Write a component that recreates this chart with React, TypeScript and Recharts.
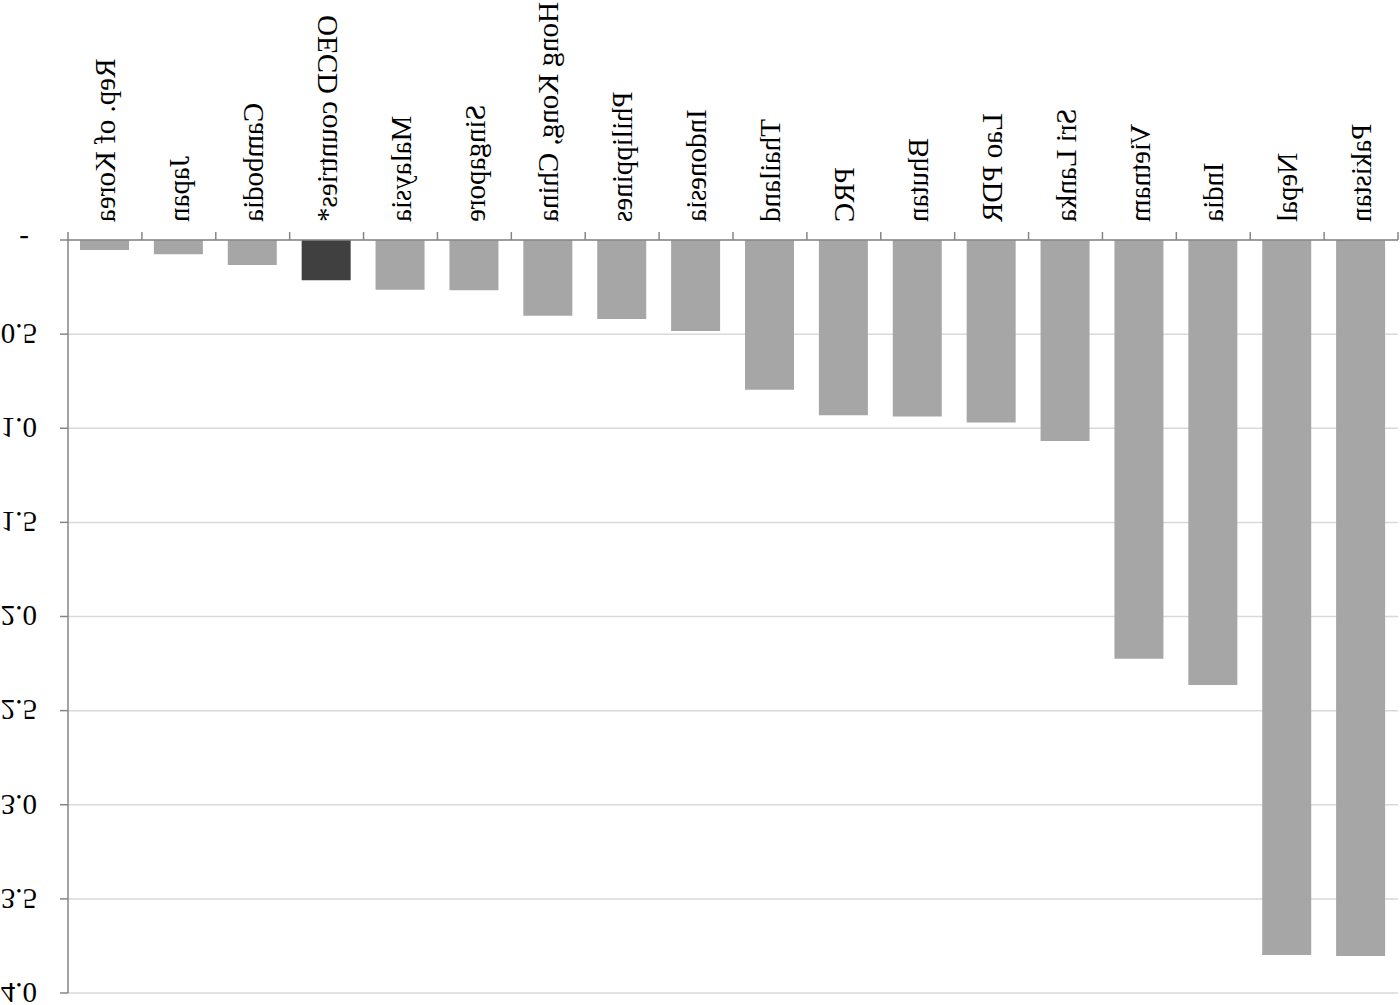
import React from 'react';
import { BarChart, Bar, XAxis, YAxis, CartesianGrid, Cell } from 'recharts';

const categories = [
  'Rep. of Korea', 'Japan', 'Cambodia', 'OECD countries*', 'Malaysia', 'Singapore',
  'Hong Kong, China', 'Philippines', 'Indonesia', 'Thailand', 'PRC', 'Bhutan',
  'Lao PDR', 'Sri Lanka', 'Vietnam', 'India', 'Nepal', 'Pakistan',
];
const values = [
  0.053, 0.076, 0.133, 0.214, 0.264, 0.267, 0.402, 0.42, 0.483, 0.795, 0.931, 0.937,
  0.97, 1.068, 2.224, 2.364, 3.798, 3.803,
];
const highlighted = ['OECD countries*'];
const yTicks = [0, 0.5, 1, 1.5, 2, 2.5, 3, 3.5, 4];
const yTickLabels = ['-', '0.5', '1.0', '1.5', '2.0', '2.5', '3.0', '3.5', '4.0'];

const data = categories.map((name, i) => ({ name, value: values[i] }));

const FONT = '"Liberation Serif", "Times New Roman", serif';
const AXIS = '#868686';

const XTick = (props: any) => {
  const { x, y, payload } = props;
  const off = payload && typeof payload.offset === 'number' && payload.offset > 0 ? payload.offset : 36.95;
  const isLast = payload.index === categories.length - 1;
  const ly = y + 18;
  return (
    <g>
      <line x1={x - off} y1={y} x2={x - off} y2={y + 8} stroke={AXIS} strokeWidth={1.5} />
      {isLast && <line x1={x + off} y1={y} x2={x + off} y2={y + 8} stroke={AXIS} strokeWidth={1.5} />}
      <text
        x={x}
        y={ly}
        transform={`rotate(-90 ${x} ${ly})`}
        textAnchor="end"
        dy="0.35em"
        fontFamily={FONT}
        fontSize={29}
        fill="#000"
      >
        {payload.value}
      </text>
    </g>
  );
};

const YTick = (props: any) => {
  const { x, y, payload } = props;
  const idx = yTicks.indexOf(payload.value);
  const label = idx >= 0 ? yTickLabels[idx] : String(payload.value);
  const isDash = label === '-';
  return (
    <text
      x={isDash ? x - 29 : x - 21}
      y={y}
      dy="0.35em"
      textAnchor="end"
      fontFamily={FONT}
      fontSize={29}
      fill="#000"
    >
      {label}
    </text>
  );
};

export default function App() {
  return (
    <div
      style={{
        position: 'absolute',
        left: 0,
        top: 0,
        width: 1400,
        height: 1005,
        background: '#fff',
        transform: 'scaleY(-1)',
      }}
    >
      <BarChart
        width={1400}
        height={1005}
        data={data}
        margin={{ top: 12, right: 2, left: 0, bottom: 0 }}
        barSize={49}
      >
        <CartesianGrid vertical={false} stroke="#d9d9d9" strokeWidth={1.5} />
        <XAxis
          dataKey="name"
          interval={0}
          height={240}
          tickLine={false}
          tickSize={0}
          tickMargin={0}
          axisLine={{ stroke: AXIS, strokeWidth: 1.5 }}
          tick={<XTick />}
        />
        <YAxis
          type="number"
          domain={[0, 4]}
          ticks={yTicks}
          interval={0}
          width={68}
          tickSize={8}
          tickMargin={2}
          axisLine={{ stroke: AXIS, strokeWidth: 1.5 }}
          tickLine={{ stroke: AXIS, strokeWidth: 1.5 }}
          tick={<YTick />}
        />
        <Bar dataKey="value" isAnimationActive={false}>
          {data.map((d) => (
            <Cell key={d.name} fill={highlighted.includes(d.name) ? '#404040' : '#a6a6a6'} />
          ))}
        </Bar>
      </BarChart>
    </div>
  );
}
